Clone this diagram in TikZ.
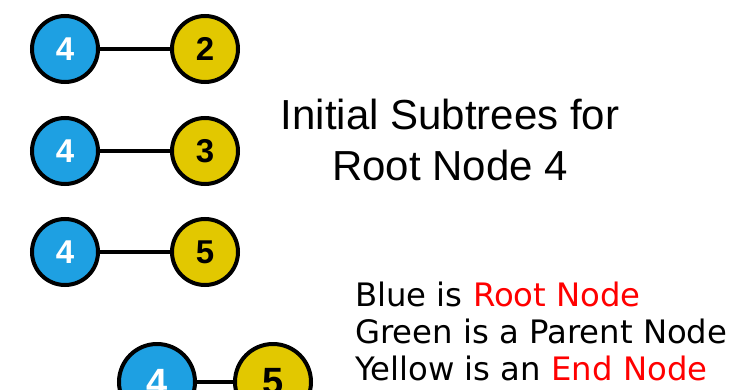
\documentclass[tikz,border=0pt]{standalone}
\usepackage{fontspec}
\setmainfont{Liberation Sans}
\newfontfamily\legendfont{DejaVu Sans}
\definecolor{rootblue}{RGB}{30,160,226}
\definecolor{endyellow}{RGB}{226,200,0}
\tikzset{
  treenode/.style={circle, draw=black, line width=4pt, inner sep=0pt,
    font=\bfseries\fontsize{33}{33}\selectfont},
  rootnode/.style={treenode, fill=rootblue, text=white, minimum size=66pt},
  endnode/.style={treenode, fill=endyellow, text=black, minimum size=66pt},
  bignode/.style={minimum size=76pt, font=\bfseries\fontsize{38}{38}\selectfont},
  edge/.style={line width=3.2pt, draw=black},
  titleline/.style={anchor=base, inner sep=0pt, font=\fontsize{42}{50}\selectfont},
  legendline/.style={anchor=base west, inner sep=0pt,
    font=\legendfont\fontsize{32.3}{37}\selectfont}
}
\begin{document}
\begin{tikzpicture}[x=1pt, y=-1pt]
  \useasboundingbox (0,0) rectangle (730,390);
  \fill[white] (0,0) rectangle (730,390);
  \clip (0,0) rectangle (730,390);

  % three subtrees rooted at 4
  \node[rootnode] (r1) at (65,49) {4};
  \node[endnode]  (e1) at (205,49) {2};
  \node[rootnode] (r2) at (65,151) {4};
  \node[endnode]  (e2) at (205,151) {3};
  \node[rootnode] (r3) at (65,252) {4};
  \node[endnode]  (e3) at (205,252) {5};
  \draw[edge] (r1) -- (e1);
  \draw[edge] (r2) -- (e2);
  \draw[edge] (r3) -- (e3);

  % larger pair at the bottom edge
  \node[rootnode, bignode] (r4) at (157,382) {4};
  \node[endnode, bignode]  (e4) at (273,382) {5};
  \draw[edge] (r4) -- (e4);

  % title
  \node[titleline] (title1) at (450,130) {Initial Subtrees for};
  \node[titleline] (title2) at (450,180) {Root Node 4};

  % legend
  \node[legendline] (leg1) at (355,306) {Blue is \textcolor{red}{Root Node}};
  \node[legendline] (leg2) at (355,343) {Green is a Parent Node};
  \node[legendline] (leg3) at (355,380) {Yellow is an \textcolor{red}{End Node}};
\end{tikzpicture}
\end{document}
